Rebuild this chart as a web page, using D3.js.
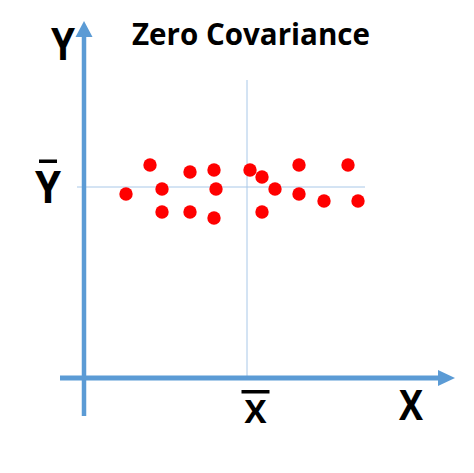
<!DOCTYPE html>
<html><head><meta charset="utf-8">
<script src="https://cdn.jsdelivr.net/npm/d3@7"></script>
<style>body{margin:0;background:#fff}svg{display:block}</style>
</head><body>
<script>
const title = "Zero Covariance";
const xs = [66, 42, 78, 78, 106, 106, 130, 132, 130, 166, 178, 178, 191, 215, 215, 240, 264, 274];
const ys = [213, 184, 189, 166, 206, 166, 208, 189, 160, 208, 201, 166, 189, 213, 184, 177, 213, 177];
const xMean = 163, yMean = 191;
const axisLabels = ["X", "Y"];

const W = 474, H = 473;
const svg = d3.select("body").append("svg").attr("width", W).attr("height", H);
const x = d3.scaleLinear().domain([0, 370]).range([84, 454]);
const y = d3.scaleLinear().domain([0, 360]).range([378, 18]);
const axisCol = "#5b9bd5", meanCol = "#a9c8e8";
const font = "'Open Sans', 'Liberation Sans', Arial, sans-serif";

// mean lines
svg.append("line").attr("x1", x(xMean)).attr("x2", x(xMean)).attr("y1", y(298)).attr("y2", y(0))
  .attr("stroke", meanCol).attr("stroke-width", 1);
svg.append("line").attr("x1", x(-7)).attr("x2", x(281)).attr("y1", y(yMean)).attr("y2", y(yMean))
  .attr("stroke", meanCol).attr("stroke-width", 1);

// axes
svg.append("line").attr("x1", x(-24)).attr("x2", x(355)).attr("y1", y(0)).attr("y2", y(0))
  .attr("stroke", axisCol).attr("stroke-width", 5);
svg.append("path").attr("d", `M${x(371)},${y(0)} L${x(354)},${y(0)-8} L${x(354)},${y(0)+8} Z`).attr("fill", axisCol);
svg.append("line").attr("x1", x(0)).attr("x2", x(0)).attr("y1", y(-38)).attr("y2", y(343))
  .attr("stroke", axisCol).attr("stroke-width", 4.5);
svg.append("path").attr("d", `M${x(0)},${y(357)} L${x(0)-8.5},${y(341)} L${x(0)+8.5},${y(341)} Z`).attr("fill", axisCol);

// points
svg.append("g").selectAll("circle").data(xs.map((v, i) => [v, ys[i]])).join("circle")
  .attr("cx", d => x(d[0])).attr("cy", d => y(d[1])).attr("r", 6.7).attr("fill", "#ff0000");

// texts
svg.append("text").attr("x", 251).attr("y", 45).attr("text-anchor", "middle")
  .attr("font-family", font).attr("font-weight", "bold").attr("font-size", 30)
  .attr("textLength", 238).attr("lengthAdjust", "spacingAndGlyphs").text(title);
svg.append("text").attr("x", 63).attr("y", 60).attr("text-anchor", "middle")
  .attr("font-family", font).attr("font-weight", "bold").attr("font-size", 44)
  .attr("textLength", 24).attr("lengthAdjust", "spacingAndGlyphs").text(axisLabels[1]);
svg.append("text").attr("x", 411).attr("y", 420).attr("text-anchor", "middle")
  .attr("font-family", font).attr("font-weight", "bold").attr("font-size", 41)
  .attr("textLength", 24).attr("lengthAdjust", "spacingAndGlyphs").text(axisLabels[0]);
// mean labels with bars
svg.append("text").attr("x", 48).attr("y", 203).attr("text-anchor", "middle")
  .attr("font-family", font).attr("font-weight", "bold").attr("font-size", 45)
  .attr("textLength", 26).attr("lengthAdjust", "spacingAndGlyphs").text(axisLabels[1]);
svg.append("rect").attr("x", 39).attr("y", 159.5).attr("width", 18).attr("height", 3.5).attr("fill", "#000");
svg.append("text").attr("x", x(xMean) + 8.5).attr("y", 423).attr("text-anchor", "middle")
  .attr("font-family", font).attr("font-weight", "bold").attr("font-size", 33)
  .attr("textLength", 22).attr("lengthAdjust", "spacingAndGlyphs").text(axisLabels[0]);
svg.append("rect").attr("x", x(xMean) - 5.5).attr("y", 390).attr("width", 28).attr("height", 3.5).attr("fill", "#000");
</script>
</body></html>
